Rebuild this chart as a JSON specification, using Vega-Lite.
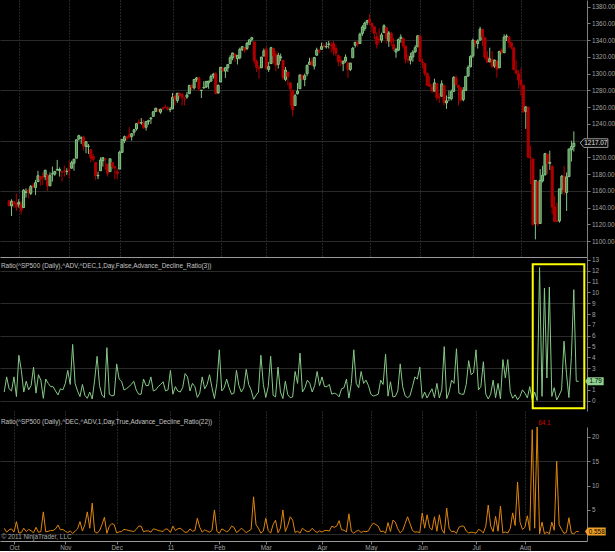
{
"$schema": "https://vega.github.io/schema/vega-lite/v6.json",
"background": "#000000",
"padding": 0,
"bounds": "flush",
"spacing": 0,
"config": {
  "view": {"stroke": null},
  "axis": {"labelFont": "Liberation Sans", "labelFontSize": 6.4, "labelColor": "#a0a0a0", "tickColor": "#808080", "domainColor": "#808080", "tickSize": 3, "labelPadding": 1.5, "titleFont": "Liberation Sans"},
  "title": {"font": "Liberation Sans"},
  "text": {"font": "Liberation Sans"}
},
"datasets": {
"box": [{"i0": 216.2, "i1": 237.3, "v0": -0.7, "v1": 12.6}],
"px": [
{"i":0,"o":1148,"h":1149,"l":1142,"c":1142.2,"a":0.8,"r":1.25},
{"i":1,"o":1142,"h":1150,"l":1130,"c":1147.7,"a":2.2,"r":0.45},
{"i":2,"o":1147,"h":1148,"l":1140,"c":1144.7,"a":1.1,"r":0.91},
{"i":3,"o":1145,"h":1157,"l":1136,"c":1141.2,"a":0.9,"r":1.11},
{"i":4,"o":1144,"h":1150,"l":1140,"c":1146.2,"a":2.2,"r":0.45},
{"i":5,"o":1144,"h":1148,"l":1132,"c":1137,"a":0.38,"r":2.6},
{"i":6,"o":1140,"h":1162,"l":1140,"c":1160.8,"a":4.2,"r":0.24},
{"i":7,"o":1158,"h":1163,"l":1152,"c":1159,"a":2.8,"r":0.36},
{"i":8,"o":1161,"h":1163,"l":1151,"c":1158.1,"a":0.8,"r":1.25},
{"i":9,"o":1157,"h":1167,"l":1155,"c":1165.2,"a":1.8,"r":0.56},
{"i":10,"o":1166,"h":1169,"l":1163,"c":1165.3,"a":1,"r":1},
{"i":11,"o":1164,"h":1173,"l":1155,"c":1169.8,"a":1.4,"r":0.71},
{"i":12,"o":1171,"h":1184,"l":1171,"c":1178.1,"a":3.1,"r":0.32},
{"i":13,"o":1177,"h":1178,"l":1166,"c":1173.8,"a":0.7,"r":1.43},
{"i":14,"o":1177,"h":1182,"l":1167,"c":1176.2,"a":2.4,"r":0.42},
{"i":15,"o":1177,"h":1185,"l":1173,"c":1184.7,"a":1.9,"r":0.53},
{"i":16,"o":1179,"h":1180,"l":1160,"c":1165.9,"a":0.22,"r":4.6},
{"i":17,"o":1166,"h":1182,"l":1166,"c":1178.2,"a":2,"r":0.5},
{"i":18,"o":1180,"h":1189,"l":1171,"c":1180.3,"a":1.6,"r":0.63},
{"i":19,"o":1180,"h":1184,"l":1178,"c":1183.1,"a":1.3,"r":0.77},
{"i":20,"o":1185,"h":1197,"l":1184,"c":1185.6,"a":1.3,"r":0.77},
{"i":21,"o":1184,"h":1188,"l":1177,"c":1185.6,"a":0.9,"r":1.11},
{"i":22,"o":1183,"h":1183,"l":1171,"c":1182.5,"a":0.53,"r":1.9},
{"i":23,"o":1184,"h":1190,"l":1177,"c":1183.8,"a":1.1,"r":0.91},
{"i":24,"o":1183,"h":1187,"l":1179,"c":1183.3,"a":1,"r":1},
{"i":25,"o":1185,"h":1196,"l":1175,"c":1184.4,"a":1.6,"r":0.63},
{"i":26,"o":1187,"h":1196,"l":1187,"c":1193.6,"a":2.8,"r":0.36},
{"i":27,"o":1193,"h":1198,"l":1184,"c":1197.9,"a":1.5,"r":0.67},
{"i":28,"o":1199,"h":1221,"l":1199,"c":1221.1,"a":5.2,"r":0.19},
{"i":29,"o":1222,"h":1227,"l":1220,"c":1225.9,"a":1.6,"r":0.63},
{"i":30,"o":1223,"h":1225,"l":1216,"c":1223.3,"a":0.9,"r":1.11},
{"i":31,"o":1224,"h":1226,"l":1208,"c":1213.4,"a":0.38,"r":2.6},
{"i":32,"o":1213,"h":1219,"l":1205,"c":1218.7,"a":1.5,"r":0.67},
{"i":33,"o":1213,"h":1216,"l":1204,"c":1213.5,"a":0.5,"r":2},
{"i":34,"o":1209,"h":1210,"l":1194,"c":1199.2,"a":0.22,"r":4.6},
{"i":35,"o":1201,"h":1204,"l":1195,"c":1197.8,"a":0.8,"r":1.25},
{"i":36,"o":1194,"h":1194,"l":1173,"c":1178.3,"a":0.16,"r":6.4},
{"i":37,"o":1178,"h":1183,"l":1174,"c":1178.6,"a":1.9,"r":0.53},
{"i":38,"o":1184,"h":1200,"l":1184,"c":1196.7,"a":4.1,"r":0.24},
{"i":39,"o":1196,"h":1199,"l":1189,"c":1199.7,"a":1.4,"r":0.71},
{"i":40,"o":1198,"h":1199,"l":1185,"c":1197.8,"a":0.5,"r":2},
{"i":41,"o":1192,"h":1192,"l":1177,"c":1180.7,"a":0.29,"r":3.5},
{"i":42,"o":1183,"h":1198,"l":1183,"c":1198.4,"a":4.9,"r":0.2},
{"i":43,"o":1194,"h":1194,"l":1186,"c":1189.4,"a":0.6,"r":1.67},
{"i":44,"o":1189,"h":1189,"l":1174,"c":1187.8,"a":0.45,"r":2.2},
{"i":45,"o":1183,"h":1187,"l":1174,"c":1180.6,"a":0.5,"r":2},
{"i":46,"o":1186,"h":1208,"l":1186,"c":1206.1,"a":3.4,"r":0.29},
{"i":47,"o":1206,"h":1221,"l":1206,"c":1221.5,"a":2,"r":0.5},
{"i":48,"o":1220,"h":1226,"l":1217,"c":1224.7,"a":1.8,"r":0.56},
{"i":49,"o":1224,"h":1226,"l":1220,"c":1223.1,"a":1,"r":1},
{"i":50,"o":1227,"h":1236,"l":1223,"c":1223.8,"a":1.1,"r":0.91},
{"i":51,"o":1225,"h":1229,"l":1220,"c":1228.3,"a":1.3,"r":0.77},
{"i":52,"o":1230,"h":1234,"l":1226,"c":1233,"a":1.5,"r":0.67},
{"i":53,"o":1234,"h":1241,"l":1232,"c":1240.4,"a":1.8,"r":0.56},
{"i":54,"o":1242,"h":1246,"l":1240,"c":1240.5,"a":1,"r":1},
{"i":55,"o":1241,"h":1247,"l":1239,"c":1241.6,"a":0.6,"r":1.67},
{"i":56,"o":1241,"h":1245,"l":1234,"c":1235.2,"a":0.6,"r":1.67},
{"i":57,"o":1236,"h":1243,"l":1232,"c":1242.9,"a":2,"r":0.5},
{"i":58,"o":1243,"h":1245,"l":1239,"c":1243.9,"a":1.4,"r":0.71},
{"i":59,"o":1246,"h":1248,"l":1240,"c":1247.1,"a":1.4,"r":0.71},
{"i":60,"o":1249,"h":1255,"l":1249,"c":1254.6,"a":2.2,"r":0.45},
{"i":61,"o":1255,"h":1259,"l":1254,"c":1258.8,"a":0.9,"r":1.11},
{"i":62,"o":1257,"h":1258,"l":1254,"c":1256.8,"a":1,"r":1},
{"i":63,"o":1254,"h":1258,"l":1252,"c":1257.5,"a":1.3,"r":0.77},
{"i":64,"o":1259,"h":1260,"l":1256,"c":1258.5,"a":1.5,"r":0.67},
{"i":65,"o":1260,"h":1263,"l":1259,"c":1259.8,"a":1.75,"r":0.57},
{"i":66,"o":1259,"h":1261,"l":1256,"c":1257.9,"a":0.9,"r":1.11},
{"i":67,"o":1257,"h":1260,"l":1254,"c":1257.6,"a":1,"r":1},
{"i":68,"o":1258,"h":1277,"l":1258,"c":1271.9,"a":2.8,"r":0.36},
{"i":69,"o":1273,"h":1275,"l":1262,"c":1270.2,"a":0.6,"r":1.67},
{"i":70,"o":1268,"h":1277,"l":1265,"c":1276.6,"a":1.3,"r":0.77},
{"i":71,"o":1276,"h":1278,"l":1270,"c":1273.9,"a":0.9,"r":1.11},
{"i":72,"o":1275,"h":1277,"l":1262,"c":1271.5,"a":0.8,"r":1.25},
{"i":73,"o":1270,"h":1272,"l":1262,"c":1269.8,"a":1.2,"r":0.83},
{"i":74,"o":1272,"h":1278,"l":1270,"c":1274.5,"a":2.5,"r":0.4},
{"i":75,"o":1276,"h":1286,"l":1276,"c":1286,"a":2.2,"r":0.45},
{"i":76,"o":1286,"h":1287,"l":1280,"c":1283.8,"a":0.9,"r":1.11},
{"i":77,"o":1283,"h":1293,"l":1281,"c":1293.2,"a":1.6,"r":0.63},
{"i":78,"o":1293,"h":1296,"l":1290,"c":1295,"a":1.3,"r":0.77},
{"i":79,"o":1295,"h":1295,"l":1279,"c":1281.9,"a":0.3,"r":3.3},
{"i":80,"o":1280,"h":1280,"l":1271,"c":1280.3,"a":0.7,"r":1.43},
{"i":81,"o":1283,"h":1291,"l":1282,"c":1283.4,"a":2.2,"r":0.45},
{"i":82,"o":1284,"h":1291,"l":1283,"c":1290.8,"a":1.1,"r":0.91},
{"i":83,"o":1289,"h":1291,"l":1282,"c":1291.2,"a":1.5,"r":0.67},
{"i":84,"o":1291,"h":1299,"l":1291,"c":1296.6,"a":2.4,"r":0.42},
{"i":85,"o":1297,"h":1301,"l":1294,"c":1299.5,"a":1.2,"r":0.83},
{"i":86,"o":1300,"h":1302,"l":1275,"c":1276.3,"a":0.2,"r":5},
{"i":87,"o":1277,"h":1287,"l":1276,"c":1286.1,"a":1.6,"r":0.63},
{"i":88,"o":1290,"h":1308,"l":1290,"c":1307.6,"a":4.7,"r":0.21},
{"i":89,"o":1306,"h":1308,"l":1302,"c":1304,"a":0.9,"r":1.11},
{"i":90,"o":1303,"h":1308,"l":1295,"c":1307.1,"a":1.2,"r":0.83},
{"i":91,"o":1307,"h":1311,"l":1302,"c":1310.9,"a":2,"r":0.5},
{"i":92,"o":1312,"h":1322,"l":1312,"c":1319.1,"a":1.2,"r":0.83},
{"i":93,"o":1319,"h":1325,"l":1316,"c":1324.6,"a":0.6,"r":1.67},
{"i":94,"o":1323,"h":1324,"l":1314,"c":1320.9,"a":0.7,"r":1.43},
{"i":95,"o":1318,"h":1322,"l":1311,"c":1321.9,"a":2.8,"r":0.36},
{"i":96,"o":1319,"h":1331,"l":1317,"c":1329.2,"a":1.4,"r":0.71},
{"i":97,"o":1329,"h":1333,"l":1327,"c":1332.3,"a":0.8,"r":1.25},
{"i":98,"o":1331,"h":1332,"l":1325,"c":1328,"a":1.2,"r":0.83},
{"i":99,"o":1330,"h":1338,"l":1328,"c":1336.3,"a":2.9,"r":0.34},
{"i":100,"o":1335,"h":1341,"l":1334,"c":1340.4,"a":1.5,"r":0.67},
{"i":101,"o":1341,"h":1344,"l":1338,"c":1343,"a":1,"r":1},
{"i":102,"o":1338,"h":1338,"l":1312,"c":1315.4,"a":0.13,"r":7.7},
{"i":103,"o":1315,"h":1317,"l":1302,"c":1307.4,"a":0.5,"r":2},
{"i":104,"o":1307,"h":1310,"l":1294,"c":1306.1,"a":0.8,"r":1.25},
{"i":105,"o":1307,"h":1320,"l":1307,"c":1319.9,"a":4.2,"r":0.24},
{"i":106,"o":1321,"h":1330,"l":1321,"c":1327.2,"a":1.5,"r":0.67},
{"i":107,"o":1329,"h":1332,"l":1305,"c":1306.3,"a":0.3,"r":3.3},
{"i":108,"o":1305,"h":1314,"l":1302,"c":1308.4,"a":1.3,"r":0.77},
{"i":109,"o":1312,"h":1332,"l":1312,"c":1331,"a":4.1,"r":0.24},
{"i":110,"o":1330,"h":1331,"l":1312,"c":1321.2,"a":0.5,"r":2},
{"i":111,"o":1323,"h":1327,"l":1303,"c":1310.1,"a":0.35,"r":2.9},
{"i":112,"o":1311,"h":1325,"l":1306,"c":1321.8,"a":3.1,"r":0.32},
{"i":113,"o":1319,"h":1324,"l":1315,"c":1320,"a":0.8,"r":1.25},
{"i":114,"o":1316,"h":1316,"l":1293,"c":1295.1,"a":0.2,"r":5},
{"i":115,"o":1293,"h":1308,"l":1291,"c":1304.3,"a":1.8,"r":0.56},
{"i":116,"o":1302,"h":1302,"l":1286,"c":1296.4,"a":0.55,"r":1.8},
{"i":117,"o":1289,"h":1290,"l":1262,"c":1281.9,"a":0.28,"r":3.6},
{"i":118,"o":1280,"h":1281,"l":1249,"c":1256.9,"a":0.35,"r":2.9},
{"i":119,"o":1262,"h":1276,"l":1262,"c":1273.7,"a":2.7,"r":0.37},
{"i":120,"o":1276,"h":1289,"l":1275,"c":1279.2,"a":1.6,"r":0.63},
{"i":121,"o":1282,"h":1299,"l":1282,"c":1298.4,"a":4.4,"r":0.23},
{"i":122,"o":1298,"h":1299,"l":1292,"c":1293.8,"a":0.8,"r":1.25},
{"i":123,"o":1293,"h":1300,"l":1285,"c":1297.5,"a":1.2,"r":0.83},
{"i":124,"o":1300,"h":1311,"l":1297,"c":1309.7,"a":1.9,"r":0.53},
{"i":125,"o":1311,"h":1319,"l":1311,"c":1313.8,"a":1.6,"r":0.63},
{"i":126,"o":1315,"h":1319,"l":1310,"c":1310.2,"a":0.8,"r":1.25},
{"i":127,"o":1309,"h":1320,"l":1305,"c":1319.4,"a":1.4,"r":0.71},
{"i":128,"o":1322,"h":1331,"l":1322,"c":1328.3,"a":2.7,"r":0.37},
{"i":129,"o":1327,"h":1330,"l":1325,"c":1325.8,"a":1.4,"r":0.71},
{"i":130,"o":1329,"h":1337,"l":1329,"c":1332.4,"a":2.2,"r":0.45},
{"i":131,"o":1333,"h":1336,"l":1330,"c":1332.9,"a":1.3,"r":0.77},
{"i":132,"o":1332,"h":1338,"l":1330,"c":1332.6,"a":1.3,"r":0.77},
{"i":133,"o":1335,"h":1339,"l":1330,"c":1335.5,"a":1.5,"r":0.67},
{"i":134,"o":1334,"h":1338,"l":1325,"c":1333.5,"a":0.6,"r":1.67},
{"i":135,"o":1336,"h":1339,"l":1322,"c":1328.2,"a":0.7,"r":1.43},
{"i":136,"o":1330,"h":1334,"l":1321,"c":1324.5,"a":0.6,"r":1.67},
{"i":137,"o":1322,"h":1322,"l":1309,"c":1314.2,"a":0.36,"r":2.8},
{"i":138,"o":1316,"h":1321,"l":1309,"c":1314.4,"a":1.1,"r":0.91},
{"i":139,"o":1312,"h":1316,"l":1303,"c":1314.5,"a":1.2,"r":0.83},
{"i":140,"o":1315,"h":1323,"l":1313,"c":1319.7,"a":2,"r":0.5},
{"i":141,"o":1313,"h":1313,"l":1295,"c":1305.1,"a":0.24,"r":4.2},
{"i":142,"o":1305,"h":1313,"l":1303,"c":1312.6,"a":1.6,"r":0.63},
{"i":143,"o":1319,"h":1332,"l":1319,"c":1330.4,"a":4.7,"r":0.21},
{"i":144,"o":1334,"h":1338,"l":1331,"c":1337.4,"a":1.6,"r":0.63},
{"i":145,"o":1338,"h":1338,"l":1332,"c":1335.3,"a":1.2,"r":0.83},
{"i":146,"o":1336,"h":1349,"l":1336,"c":1347.2,"a":2.7,"r":0.37},
{"i":147,"o":1348,"h":1358,"l":1345,"c":1355.7,"a":1.6,"r":0.63},
{"i":148,"o":1354,"h":1362,"l":1351,"c":1360.5,"a":1.9,"r":0.53},
{"i":149,"o":1361,"h":1364,"l":1358,"c":1363.6,"a":1.4,"r":0.71},
{"i":150,"o":1365,"h":1371,"l":1358,"c":1361.2,"a":0.6,"r":1.67},
{"i":151,"o":1360,"h":1361,"l":1349,"c":1356.6,"a":0.43,"r":2.3},
{"i":152,"o":1356,"h":1357,"l":1341,"c":1348,"a":0.5,"r":2},
{"i":153,"o":1344,"h":1349,"l":1330,"c":1335.1,"a":0.6,"r":1.67},
{"i":154,"o":1341,"h":1354,"l":1336,"c":1340.2,"a":1.9,"r":0.53},
{"i":155,"o":1340,"h":1349,"l":1337,"c":1346.3,"a":1.5,"r":0.67},
{"i":156,"o":1349,"h":1359,"l":1349,"c":1357.2,"a":4.3,"r":0.23},
{"i":157,"o":1355,"h":1355,"l":1336,"c":1342.1,"a":0.42,"r":2.4},
{"i":158,"o":1339,"h":1351,"l":1332,"c":1348.7,"a":1.75,"r":0.57},
{"i":159,"o":1348,"h":1350,"l":1333,"c":1337.8,"a":0.35,"r":2.9},
{"i":160,"o":1335,"h":1343,"l":1327,"c":1329.5,"a":0.4,"r":2.5},
{"i":161,"o":1326,"h":1331,"l":1319,"c":1329,"a":0.9,"r":1.11},
{"i":162,"o":1328,"h":1342,"l":1327,"c":1340.7,"a":3.4,"r":0.29},
{"i":163,"o":1342,"h":1347,"l":1337,"c":1343.6,"a":1.3,"r":0.77},
{"i":164,"o":1342,"h":1343,"l":1330,"c":1333.3,"a":0.45,"r":2.2},
{"i":165,"o":1333,"h":1333,"l":1312,"c":1317.4,"a":0.28,"r":3.6},
{"i":166,"o":1317,"h":1323,"l":1313,"c":1316.3,"a":0.45,"r":2.2},
{"i":167,"o":1316,"h":1325,"l":1311,"c":1320.5,"a":1.3,"r":0.77},
{"i":168,"o":1320,"h":1328,"l":1314,"c":1325.7,"a":2.2,"r":0.45},
{"i":169,"o":1326,"h":1334,"l":1325,"c":1331.1,"a":2,"r":0.5},
{"i":170,"o":1332,"h":1346,"l":1332,"c":1345.2,"a":3.1,"r":0.32},
{"i":171,"o":1345,"h":1346,"l":1314,"c":1314.6,"a":0.23,"r":4.4},
{"i":172,"o":1314,"h":1318,"l":1306,"c":1312.9,"a":0.8,"r":1.25},
{"i":173,"o":1312,"h":1312,"l":1297,"c":1300.2,"a":0.25,"r":4},
{"i":174,"o":1300,"h":1301,"l":1285,"c":1286.2,"a":0.7,"r":1.43},
{"i":175,"o":1287,"h":1297,"l":1284,"c":1284.9,"a":1.1,"r":0.91},
{"i":176,"o":1284,"h":1288,"l":1277,"c":1279.6,"a":0.28,"r":3.6},
{"i":177,"o":1279,"h":1294,"l":1279,"c":1289,"a":1.6,"r":0.63},
{"i":178,"o":1288,"h":1288,"l":1268,"c":1271,"a":0.25,"r":4},
{"i":179,"o":1272,"h":1277,"l":1265,"c":1271.8,"a":1,"r":1},
{"i":180,"o":1273,"h":1292,"l":1273,"c":1287.9,"a":5,"r":0.2},
{"i":181,"o":1286,"h":1286,"l":1262,"c":1265.4,"a":0.19,"r":5.4},
{"i":182,"o":1265,"h":1274,"l":1258,"c":1267.6,"a":0.8,"r":1.25},
{"i":183,"o":1271,"h":1280,"l":1267,"c":1271.5,"a":1.9,"r":0.53},
{"i":184,"o":1270,"h":1281,"l":1268,"c":1278.4,"a":1.6,"r":0.63},
{"i":185,"o":1279,"h":1297,"l":1278,"c":1295.5,"a":4.8,"r":0.21},
{"i":186,"o":1295,"h":1298,"l":1286,"c":1287.1,"a":0.7,"r":1.43},
{"i":187,"o":1286,"h":1287,"l":1262,"c":1283.5,"a":0.6,"r":1.67},
{"i":188,"o":1283,"h":1284,"l":1267,"c":1268.5,"a":0.6,"r":1.67},
{"i":189,"o":1269,"h":1284,"l":1267,"c":1280.1,"a":1.5,"r":0.67},
{"i":190,"o":1280,"h":1297,"l":1280,"c":1296.7,"a":3.7,"r":0.27},
{"i":191,"o":1297,"h":1310,"l":1297,"c":1307.4,"a":2.4,"r":0.42},
{"i":192,"o":1308,"h":1322,"l":1308,"c":1320.6,"a":2.6,"r":0.38},
{"i":193,"o":1321,"h":1342,"l":1319,"c":1339.7,"a":4.7,"r":0.21},
{"i":194,"o":1339,"h":1340,"l":1332,"c":1337.4,"a":1,"r":1},
{"i":195,"o":1336,"h":1341,"l":1330,"c":1339.2,"a":1.3,"r":0.77},
{"i":196,"o":1340,"h":1356,"l":1340,"c":1353.2,"a":3.6,"r":0.28},
{"i":197,"o":1353,"h":1353,"l":1333,"c":1343.8,"a":0.6,"r":1.67},
{"i":198,"o":1343,"h":1343,"l":1317,"c":1319.5,"a":0.17,"r":6},
{"i":199,"o":1320,"h":1327,"l":1313,"c":1313.6,"a":0.6,"r":1.67},
{"i":200,"o":1314,"h":1331,"l":1314,"c":1317.7,"a":1.9,"r":0.53},
{"i":201,"o":1317,"h":1327,"l":1307,"c":1308.9,"a":0.27,"r":3.7},
{"i":202,"o":1309,"h":1317,"l":1307,"c":1316.1,"a":1.6,"r":0.63},
{"i":203,"o":1315,"h":1315,"l":1295,"c":1305.4,"a":0.17,"r":5.8},
{"i":204,"o":1307,"h":1327,"l":1307,"c":1326.7,"a":3.8,"r":0.26},
{"i":205,"o":1328,"h":1330,"l":1323,"c":1325.8,"a":2.1,"r":0.48},
{"i":206,"o":1325,"h":1347,"l":1325,"c":1343.8,"a":3.8,"r":0.26},
{"i":207,"o":1344,"h":1347,"l":1339,"c":1345,"a":0.85,"r":1.18},
{"i":208,"o":1344,"h":1344,"l":1331,"c":1337.4,"a":0.23,"r":4.4},
{"i":209,"o":1337,"h":1338,"l":1329,"c":1331.9,"a":0.55,"r":1.8},
{"i":210,"o":1331,"h":1331,"l":1304,"c":1304.9,"a":0.093,"r":10.75},
{"i":211,"o":1304,"h":1316,"l":1299,"c":1300.7,"a":0.4,"r":2.5},
{"i":212,"o":1300,"h":1304,"l":1282,"c":1292.3,"a":1,"r":1},
{"i":213,"o":1292,"h":1307,"l":1274,"c":1286.9,"a":0.7,"r":1.43},
{"i":214,"o":1286,"h":1287,"l":1254,"c":1254.1,"a":0.26,"r":3.8},
{"i":215,"o":1255,"h":1261,"l":1234,"c":1260.3,"a":1.3,"r":0.77},
{"i":216,"o":1260,"h":1260,"l":1200,"c":1200.1,"a":0.047,"r":21.5},
{"i":217,"o":1200,"h":1214,"l":1168,"c":1199.4,"a":0.8,"r":1.25},
{"i":218,"o":1198,"h":1199,"l":1119,"c":1119.5,"a":0.0156,"r":64.1},
{"i":219,"o":1121,"h":1172,"l":1102,"c":1172.5,"a":12.3,"r":0.081},
{"i":220,"o":1171,"h":1171,"l":1118,"c":1120.8,"a":0.4,"r":2.5},
{"i":221,"o":1121,"h":1186,"l":1121,"c":1172.6,"a":10.4,"r":0.096},
{"i":222,"o":1172,"h":1190,"l":1170,"c":1178.8,"a":2.1,"r":0.48},
{"i":223,"o":1179,"h":1205,"l":1179,"c":1204.5,"a":10.5,"r":0.095},
{"i":224,"o":1204,"h":1204,"l":1180,"c":1192.8,"a":0.4,"r":2.5},
{"i":225,"o":1193,"h":1208,"l":1185,"c":1193.9,"a":1.2,"r":0.83},
{"i":226,"o":1189,"h":1191,"l":1132,"c":1140.7,"a":0.067,"r":15},
{"i":227,"o":1141,"h":1154,"l":1123,"c":1123.5,"a":0.5,"r":2},
{"i":228,"o":1124,"h":1146,"l":1123,"c":1123.8,"a":1,"r":1},
{"i":229,"o":1124,"h":1162,"l":1122,"c":1162.4,"a":5.5,"r":0.18},
{"i":230,"o":1162,"h":1179,"l":1156,"c":1177.6,"a":2.5,"r":0.4},
{"i":231,"o":1177,"h":1190,"l":1155,"c":1159.3,"a":0.29,"r":3.4},
{"i":232,"o":1158,"h":1182,"l":1136,"c":1176.8,"a":4,"r":0.25},
{"i":233,"o":1177,"h":1210,"l":1177,"c":1210.1,"a":10.25,"r":0.098},
{"i":234,"o":1209,"h":1220,"l":1195,"c":1212.9,"a":1.8,"r":0.56},
{"i":235,"o":1213,"h":1231,"l":1207,"c":1217.07,"a":1.79,"r":0.558}
]},
"vconcat": [
{
  "width": 587, "height": 257,
  "data": {"name": "px"},
  "encoding": {
    "x": {"field": "i", "type": "quantitative", "scale": {"domain": [-1.72, 238.4], "nice": false, "zero": false},
          "axis": {"orient": "bottom", "values": [4,25,46,68,88,107,130,150,171,193,213], "labels": false, "ticks": false, "domain": true, "domainColor": "#9a9a9a", "grid": true, "gridColor": "#4a4a4a", "gridDash": [1,2], "title": null}}
  },
  "layer": [
    {"mark": {"type": "rule", "strokeWidth": 1},
     "encoding": {
       "y": {"field": "l", "type": "quantitative", "scale": {"domain": [1081, 1388], "nice": false, "zero": false},
             "axis": {"orient": "right", "values": [1100,1120,1140,1160,1180,1200,1240,1260,1280,1300,1320,1340,1360,1380], "format": ".2f", "grid": false, "title": null, "labelOverlap": false}},
       "y2": {"field": "h"},
       "color": {"condition": {"test": "datum.c >= datum.o", "value": "#86c586"}, "value": "#b00000"}
     }},
    {"mark": {"type": "bar", "width": 2},
     "encoding": {
       "y": {"field": "o", "type": "quantitative", "scale": {"domain": [1081, 1388], "nice": false, "zero": false},
             "axis": {"orient": "left", "values": [1100,1160,1220,1280,1340], "labels": false, "ticks": false, "domain": false, "grid": true, "gridColor": "#2a2a2a", "title": null}},
       "y2": {"field": "c"},
       "color": {"condition": {"test": "datum.c >= datum.o", "value": "#4f8a4f"}, "value": "#b00000"},
       "stroke": {"condition": {"test": "datum.c >= datum.o", "value": "#86c586"}, "value": "#b00000"}
     }},
    {"transform": [{"filter": "datum.i == 235"}],
     "mark": {"type": "point", "shape": "M-1.3,0L-1,-0.36H1V0.36H-1Z", "size": 576, "filled": true, "fill": "#0a0a0a", "stroke": "#9a9a9a", "strokeWidth": 1, "opacity": 1, "xOffset": 22},
     "encoding": {
       "y": {"field": "c", "type": "quantitative", "scale": {"domain": [1081, 1388], "nice": false, "zero": false}, "axis": null}
     }},
    {"transform": [{"filter": "datum.i == 235"}],
     "mark": {"type": "text", "dx": 22, "fontSize": 6.4, "color": "#e6e6e6"},
     "encoding": {
       "y": {"field": "c", "type": "quantitative", "scale": {"domain": [1081, 1388], "nice": false, "zero": false}, "axis": null},
       "text": {"field": "c", "format": ".2f"}
     }}
  ],
  "resolve": {"axis": {"y": "independent"}}
},
{
  "width": 587, "height": 154,
  "title": {"text": "Ratio(^SP500 (Daily),^ADV,^DEC,1,Day,False,Advance_Decline_Ratio(3))", "anchor": "start", "frame": "group", "orient": "top", "fontSize": 6.4, "fontWeight": "normal", "color": "#c4c4c4", "baseline": "alphabetic", "offset": -17, "dx": 1},
  "layer": [
    {"data": {"name": "px"},
     "mark": {"type": "line", "strokeWidth": 1, "color": "#86c986"},
     "encoding": {
       "x": {"field": "i", "type": "quantitative", "scale": {"domain": [-1.72, 238.4], "nice": false, "zero": false},
             "axis": {"orient": "bottom", "values": [4,25,46,68,88,107,130,150,171,193,213], "labels": false, "ticks": false, "domain": true, "domainColor": "#9a9a9a", "grid": true, "gridColor": "#4a4a4a", "gridDash": [1,2], "title": null}},
       "y": {"field": "a", "type": "quantitative", "scale": {"domain": [-0.95, 13.27], "nice": false, "zero": false},
             "axis": {"orient": "right", "values": [0,1,3,4,5,6,7,8,9,10,11,12,13], "format": "d", "grid": false, "title": null, "labelOverlap": false}}
     }},
    {"data": {"name": "box"},
     "mark": {"type": "rect", "filled": false, "stroke": "#ffff00", "strokeWidth": 2},
     "encoding": {
       "x": {"field": "i0", "type": "quantitative", "scale": {"domain": [-1.72, 238.4], "nice": false, "zero": false}, "axis": null},
       "x2": {"field": "i1"},
       "y": {"field": "v1", "type": "quantitative", "scale": {"domain": [-0.95, 13.27], "nice": false, "zero": false},
             "axis": {"orient": "left", "values": [0,3,6,9,12], "labels": false, "ticks": false, "domain": false, "grid": true, "gridColor": "#2a2a2a", "title": null}},
       "y2": {"field": "v0"}
     }},
    {"data": {"name": "px"},
     "transform": [{"filter": "datum.i == 235"}],
     "mark": {"type": "point", "shape": "M-1.3,0L-1,-0.5H1V0.5H-1Z", "size": 256, "filled": true, "fill": "#8fd08f", "opacity": 1, "xOffset": 17},
     "encoding": {
       "x": {"field": "i", "type": "quantitative", "scale": {"domain": [-1.72, 238.4], "nice": false, "zero": false}, "axis": null},
       "y": {"field": "a", "type": "quantitative", "scale": {"domain": [-0.95, 13.27], "nice": false, "zero": false}, "axis": null}
     }},
    {"data": {"name": "px"},
     "transform": [{"filter": "datum.i == 235"}],
     "mark": {"type": "text", "dx": 17, "fontSize": 6.4, "color": "#000000"},
     "encoding": {
       "x": {"field": "i", "type": "quantitative", "scale": {"domain": [-1.72, 238.4], "nice": false, "zero": false}, "axis": null},
       "y": {"field": "a", "type": "quantitative", "scale": {"domain": [-0.95, 13.27], "nice": false, "zero": false}, "axis": null},
       "text": {"field": "a", "format": ".2f"}
     }}
  ],
  "resolve": {"axis": {"y": "independent"}}
},
{
  "width": 587, "height": 130,
  "data": {"name": "px"},
  "title": {"text": "Ratio(^SP500 (Daily),^DEC,^ADV,1,Day,True,Advance_Decline_Ratio(22))", "anchor": "start", "frame": "group", "orient": "top", "fontSize": 6.4, "fontWeight": "normal", "color": "#c4c4c4", "baseline": "alphabetic", "offset": -19, "dx": 1},
  "encoding": {
    "x": {"field": "i", "type": "quantitative", "scale": {"domain": [-1.72, 238.4], "nice": false, "zero": false},
          "axis": {"orient": "bottom", "values": [4,25,46,68,88,107,130,150,171,193,213],
                   "labelExpr": "datum.value == 4 ? 'Oct' : datum.value == 25 ? 'Nov' : datum.value == 46 ? 'Dec' : datum.value == 68 ? '11' : datum.value == 88 ? 'Feb' : datum.value == 107 ? 'Mar' : datum.value == 130 ? 'Apr' : datum.value == 150 ? 'May' : datum.value == 171 ? 'Jun' : datum.value == 193 ? 'Jul' : 'Aug'",
                   "labelFlush": false, "labelPadding": 0.5, "ticks": true, "tickSize": 3, "domain": true, "domainColor": "#9a9a9a", "grid": true, "gridColor": "#4a4a4a", "gridDash": [1,2],
                   "title": "© 2011 NinjaTrader, LLC", "titleX": 1, "titleY": -2.5, "titleAlign": "left", "titleBaseline": "alphabetic", "titleFontSize": 6.4, "titleFontWeight": "normal", "titleColor": "#a8a8a8"}}
  },
  "layer": [
    {"mark": {"type": "line", "strokeWidth": 1, "color": "#e0860c"},
     "encoding": {
       "y": {"field": "r", "type": "quantitative", "scale": {"domain": [-1.38, 22.05], "range": [130, 16], "clamp": true, "nice": false, "zero": false},
             "axis": {"orient": "right", "values": [5,10,15,20], "format": "d", "grid": false, "title": null}}
     }},
    {"transform": [{"filter": "datum.r > 60"}],
     "mark": {"type": "text", "fontSize": 6.4, "color": "#d40000", "align": "left", "baseline": "middle", "dx": 1, "dy": -4.5},
     "encoding": {
       "y": {"field": "r", "type": "quantitative", "scale": {"domain": [-1.38, 22.05], "range": [130, 16], "clamp": true, "nice": false, "zero": false},
             "axis": {"orient": "left", "values": [0,15], "labels": false, "ticks": false, "domain": false, "grid": true, "gridColor": "#2a2a2a", "title": null}},
       "text": {"field": "r", "format": ".1f"}
     }},
    {"transform": [{"filter": "datum.i == 235"}],
     "mark": {"type": "point", "shape": "M-1.3,0L-1,-0.45H1V0.45H-1Z", "size": 324, "filled": true, "fill": "#f0a028", "opacity": 1, "xOffset": 18},
     "encoding": {
       "y": {"field": "r", "type": "quantitative", "scale": {"domain": [-1.38, 22.05], "range": [130, 16], "clamp": true, "nice": false, "zero": false}, "axis": null}
     }},
    {"transform": [{"filter": "datum.i == 235"}],
     "mark": {"type": "text", "dx": 18, "fontSize": 6.4, "color": "#000000"},
     "encoding": {
       "y": {"field": "r", "type": "quantitative", "scale": {"domain": [-1.38, 22.05], "range": [130, 16], "clamp": true, "nice": false, "zero": false}, "axis": null},
       "text": {"field": "r", "format": ".3f"}
     }}
  ],
  "resolve": {"axis": {"y": "independent"}}
}
]
}
